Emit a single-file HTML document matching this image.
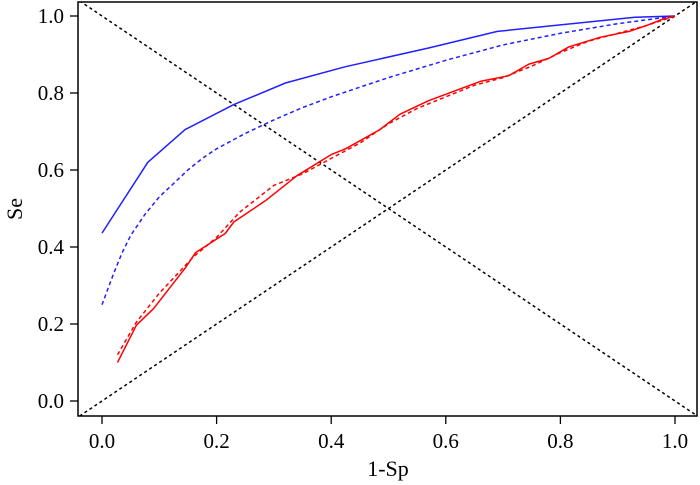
<!DOCTYPE html>
<html><head><meta charset="utf-8"><style>
html,body{margin:0;padding:0;background:#fff;}
svg, svg text{font-family:"Liberation Serif","Times New Roman",Times,serif;}
svg{display:block;}
</style></head><body>
<svg id="chart" width="700" height="485" viewBox="0 0 700 485" xmlns="http://www.w3.org/2000/svg">
<defs><clipPath id="clip"><rect x="78" y="2" width="619" height="414"/></clipPath></defs>
<g id="marks" clip-path="url(#clip)"></g>
<rect x="78" y="2" width="619" height="414" fill="none" stroke="#000" stroke-width="1.5"/>
<g id="axes"></g>
<text x="388" y="476" font-size="22" text-anchor="middle">1-Sp</text>
<text x="0" y="0" font-size="22" text-anchor="middle" transform="translate(22,209) rotate(-90)">Se</text>
</svg>
<script>
const xTicks=[0,0.2,0.4,0.6,0.8,1.0];
const yTicks=[0,0.2,0.4,0.6,0.8,1.0];
const blueSolidX=[0,0.08,0.145,0.23,0.32,0.424,0.57,0.69,0.93,1];
const blueSolidY=[0.436,0.62,0.705,0.77,0.826,0.868,0.917,0.96,0.997,1];
const blueDashX=[0,0.01,0.02,0.035,0.05,0.075,0.1,0.125,0.15,0.175,0.2,0.25,0.3,0.35,0.4,0.5,0.6,0.7,0.8,0.9,1];
const blueDashY=[0.25,0.29,0.33,0.385,0.43,0.485,0.53,0.565,0.6,0.63,0.655,0.695,0.73,0.762,0.79,0.84,0.885,0.925,0.955,0.98,1];
const redSolidX=[0.027,0.06,0.09,0.145,0.163,0.215,0.23,0.285,0.34,0.4,0.425,0.485,0.52,0.57,0.66,0.71,0.745,0.78,0.815,0.87,0.92,0.95,0.975,1];
const redSolidY=[0.1,0.197,0.24,0.345,0.385,0.435,0.465,0.52,0.585,0.64,0.655,0.705,0.745,0.78,0.83,0.845,0.875,0.89,0.92,0.945,0.96,0.975,0.99,1];
const redDashX=[0.027,0.06,0.1,0.16,0.2,0.24,0.3,0.35,0.4,0.45,0.5,0.55,0.6,0.65,0.7,0.75,0.8,0.85,0.9,0.95,1];
const redDashY=[0.12,0.205,0.28,0.375,0.425,0.49,0.56,0.59,0.63,0.67,0.72,0.76,0.79,0.82,0.84,0.87,0.905,0.935,0.955,0.975,1];
const NS="http://www.w3.org/2000/svg";
function sx(v){return 102+v*573;}
function sy(v){return 401-v*385;}
const marks=document.getElementById('marks'),axes=document.getElementById('axes');
function line(xs,ys,color,dash,name){
  const p=document.createElementNS(NS,'polyline');
  
  
  p.setAttribute('points',xs.map((x,i)=>sx(x).toFixed(1)+','+sy(ys[i]).toFixed(1)).join(' '));
  p.setAttribute('fill','none');p.setAttribute('stroke',color);p.setAttribute('stroke-width','1.5');
  p.setAttribute('stroke-linejoin','round');
  if(dash)p.setAttribute('stroke-dasharray',dash);
  marks.appendChild(p);
}
line([-0.1,1.1],[-0.1,1.1],'#000','3,3','reference-diagonal');
line([-0.1,1.1],[1.1,-0.1],'#000','3,3','anti-diagonal');
line(blueDashX,blueDashY,'#2020ff','4,3','blue-dashed-curve');
line(blueSolidX,blueSolidY,'#2020ff',null,'blue-solid-curve');
line(redDashX,redDashY,'#ff0000','4,3','red-dashed-curve');
line(redSolidX,redSolidY,'#ff0000',null,'red-solid-curve');
xTicks.forEach(v=>{
  const t=document.createElementNS(NS,'line');
  
  
  t.setAttribute('x1',sx(v));t.setAttribute('x2',sx(v));t.setAttribute('y1',416);t.setAttribute('y2',424);
  t.setAttribute('stroke','#000');t.setAttribute('stroke-width','1.3');axes.appendChild(t);
  const l=document.createElementNS(NS,'text');
  
  
  l.setAttribute('x',sx(v));l.setAttribute('y',448);l.setAttribute('font-size','21');l.setAttribute('text-anchor','middle');
  l.textContent=v.toFixed(1);axes.appendChild(l);
});
yTicks.forEach(v=>{
  const t=document.createElementNS(NS,'line');
  
  
  t.setAttribute('x1',70);t.setAttribute('x2',78);t.setAttribute('y1',sy(v));t.setAttribute('y2',sy(v));
  t.setAttribute('stroke','#000');t.setAttribute('stroke-width','1.3');axes.appendChild(t);
  const l=document.createElementNS(NS,'text');
  
  
  l.setAttribute('x',64);l.setAttribute('y',sy(v)+7);l.setAttribute('font-size','21');l.setAttribute('text-anchor','end');
  l.textContent=v.toFixed(1);axes.appendChild(l);
});
</script>
</body></html>
